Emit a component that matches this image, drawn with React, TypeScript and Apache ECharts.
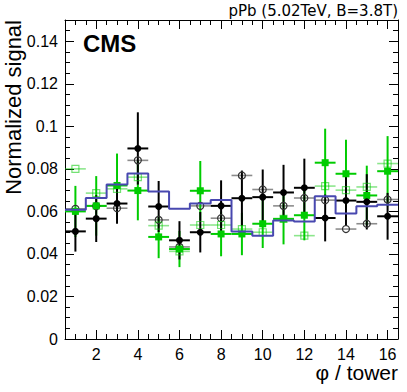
import React, { useEffect, useRef } from "react";
import * as echarts from "echarts";

// ---- data ----
const towers = [1, 2, 3, 4, 5, 6, 7, 8, 9, 10, 11, 12, 13, 14, 15, 16];
const histValues = [0.0608, 0.0663, 0.0726, 0.0778, 0.0693, 0.0613, 0.0637, 0.0654, 0.0506, 0.0486, 0.0557, 0.0553, 0.0671, 0.059, 0.0624, 0.0631];
const blackFilled = [0.0506, 0.0566, 0.0637, 0.0896, 0.0623, 0.0464, 0.0502, 0.0626, 0.0662, 0.0667, 0.0689, 0.0711, 0.0569, 0.0651, 0.0645, 0.0577];
const blackFilledErr = [0.0095, 0.011, 0.0095, 0.017, 0.012, 0.009, 0.0095, 0.012, 0.013, 0.013, 0.013, 0.0137, 0.011, 0.012, 0.013, 0.011];
const blackOpen = [0.0612, 0.0625, 0.0615, 0.084, 0.056, 0.0433, 0.0626, 0.0568, 0.0769, 0.0703, 0.0626, 0.0663, 0.0653, 0.0517, 0.0542, 0.0656];
const greenFilled = [0.06, 0.0626, 0.0722, 0.0698, 0.048, 0.0423, 0.0697, 0.0494, 0.0494, 0.0542, 0.0565, 0.0582, 0.0829, 0.0777, 0.0675, 0.0789];
const greenFilledErr = [0.012, 0.014, 0.015, 0.014, 0.01, 0.0085, 0.014, 0.0105, 0.01, 0.0114, 0.012, 0.0118, 0.016, 0.016, 0.014, 0.0165];
const greenOpen = [0.08, 0.0686, 0.0706, 0.0761, 0.0533, 0.0412, 0.0536, 0.0536, 0.0517, 0.0502, 0.0565, 0.0486, 0.0719, 0.07, 0.0715, 0.0825];

const xMajorTicks = [2, 4, 6, 8, 10, 12, 14, 16];
const xMinorTicks = [1, 1.5, 2.5, 3, 3.5, 4.5, 5, 5.5, 6.5, 7, 7.5, 8.5, 9, 9.5, 10.5, 11, 11.5, 12.5, 13, 13.5, 14.5, 15, 15.5, 16];
const yMajorTicks = [0, 0.02, 0.04, 0.06, 0.08, 0.1, 0.12, 0.14];
const yMinorTicks = [0.005, 0.01, 0.015, 0.025, 0.03, 0.035, 0.045, 0.05, 0.055, 0.065, 0.07, 0.075, 0.085, 0.09, 0.095, 0.105, 0.11, 0.115, 0.125, 0.13, 0.135, 0.145];

const FONT = "Liberation Sans, Arial, Helvetica, sans-serif";

function xAxisDef(position: string, ticks: number[], len: number, main: boolean, labels: boolean) {
  return {
    type: "value",
    min: 0.5,
    max: 16.5,
    position,
    axisLine: { show: main, onZero: false, lineStyle: { color: "#000", width: 1 } },
    axisTick: { show: true, inside: true, length: len, customValues: ticks, lineStyle: { color: "#000", width: 1 } },
    axisLabel: labels
      ? { show: true, customValues: ticks, fontSize: 16, color: "#000", fontFamily: FONT, margin: 7 }
      : { show: false },
    splitLine: { show: false },
    minorTick: { show: false },
  };
}

function yAxisDef(position: string, ticks: number[], len: number, main: boolean, labels: boolean) {
  return {
    type: "value",
    min: 0,
    max: 0.15,
    position,
    axisLine: { show: main, onZero: false, lineStyle: { color: "#000", width: 1 } },
    axisTick: { show: true, inside: true, length: len, customValues: ticks, lineStyle: { color: "#000", width: 1 } },
    axisLabel: labels
      ? {
          show: true,
          customValues: ticks,
          fontSize: 16,
          color: "#000",
          fontFamily: FONT,
          margin: 7,
          formatter: (v: number) => String(Number(v.toFixed(3))),
        }
      : { show: false },
    splitLine: { show: false },
    minorTick: { show: false },
  };
}

function errSeries(name: string, ys: number[], errs: number[] | null, color: string, width: number) {
  return {
    type: "custom",
    name,
    silent: true,
    clip: false,
    data: towers.map((t, i) => [t, ys[i], errs ? errs[i] : 0]),
    encode: { x: 0, y: 1 },
    renderItem: (params: any, api: any) => {
      const x = api.value(0);
      const y = api.value(1);
      const e = api.value(2);
      const pl = api.coord([x - 0.5, y]);
      const pr = api.coord([x + 0.5, y]);
      const children: any[] = [
        { type: "line", shape: { x1: pl[0], y1: pl[1], x2: pr[0], y2: pr[1] }, style: { stroke: color, lineWidth: width } },
      ];
      if (e > 0) {
        const pt = api.coord([x, y + e]);
        const pb = api.coord([x, y - e]);
        children.push({ type: "line", shape: { x1: pt[0], y1: pt[1], x2: pb[0], y2: pb[1] }, style: { stroke: color, lineWidth: width } });
      }
      return { type: "group", children };
    },
  };
}

function markerSeries(name: string, ys: number[], symbol: string, size: number, fill: string, stroke: string, borderWidth: number) {
  return {
    type: "scatter",
    name,
    symbol,
    symbolSize: size,
    silent: true,
    data: towers.map((t, i) => [t, ys[i]]),
    itemStyle: { color: fill, borderColor: stroke, borderWidth, opacity: 1 },
  };
}

export default function App() {
  const ref = useRef<HTMLDivElement>(null);
  useEffect(() => {
    const chart = echarts.init(ref.current!, null, { renderer: "svg" });
    const stepData = towers.map((t, i) => [t - 0.5, histValues[i]]);
    stepData.push([towers[towers.length - 1] + 0.5, histValues[histValues.length - 1]]);

    const option: any = {
      animation: false,
      backgroundColor: "#fff",
      grid: { left: 65, right: 9, top: 20, bottom: 53, containLabel: false },
      xAxis: [
        xAxisDef("bottom", xMajorTicks, 9, true, true),
        xAxisDef("bottom", xMinorTicks, 5, false, false),
        xAxisDef("top", xMajorTicks, 9, true, false),
        xAxisDef("top", xMinorTicks, 5, false, false),
      ],
      yAxis: [
        yAxisDef("left", yMajorTicks, 9, true, true),
        yAxisDef("left", yMinorTicks, 5, false, false),
        yAxisDef("right", yMajorTicks, 9, true, false),
        yAxisDef("right", yMinorTicks, 5, false, false),
      ],
      series: [
        {
          type: "line",
          name: "hist",
          data: stepData,
          step: "end",
          showSymbol: false,
          silent: true,
          lineStyle: { color: "#4848b0", width: 2 },
        },
        errSeries("blackOpenBars", blackOpen, null, "rgba(0,0,0,0.45)", 1.6),
        errSeries("greenOpenBars", greenOpen, null, "rgba(0,200,0,0.45)", 1.6),
        errSeries("greenBars", greenFilled, greenFilledErr, "#00cc00", 2),
        errSeries("blackBars", blackFilled, blackFilledErr, "#000", 2),
        markerSeries("blackOpen", blackOpen, "circle", 7, "rgba(255,255,255,0)", "#333", 1.2),
        markerSeries("greenOpen", greenOpen, "rect", 7, "rgba(255,255,255,0)", "rgba(0,200,0,0.55)", 1.2),
        markerSeries("greenFilled", greenFilled, "rect", 7, "#00cc00", "#00cc00", 0),
        markerSeries("blackFilled", blackFilled, "circle", 7, "#000", "#000", 0),
      ],
      graphic: [
        {
          type: "text",
          x: 24,
          y: 20,
          rotation: Math.PI / 2,
          style: { text: "Normalized signal", font: `22px ${FONT}`, fill: "#000", textAlign: "right", textVerticalAlign: "bottom" },
        },
        {
          type: "text",
          x: 398,
          y: 383,
          style: { text: "φ / tower", font: `21px ${FONT}`, fill: "#000", textAlign: "right", textVerticalAlign: "bottom" },
        },
        {
          type: "text",
          x: 83,
          y: 43,
          style: { text: "CMS", font: `bold 24px ${FONT}`, fill: "#000", textAlign: "left", textVerticalAlign: "middle" },
        },
        {
          type: "text",
          x: 398,
          y: 11,
          style: { text: "pPb (5.02TeV, B=3.8T)", font: `15px DejaVu Sans, sans-serif`, fill: "#000", textAlign: "right", textVerticalAlign: "middle" },
        },
      ],
    };
    chart.setOption(option);
    return () => chart.dispose();
  }, []);
  return <div ref={ref} style={{ position: "absolute", left: 0, top: 0, width: 407, height: 392 }} />;
}
